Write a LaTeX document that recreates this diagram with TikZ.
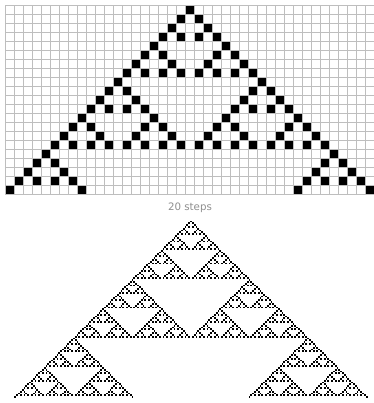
\documentclass[tikz,border=0pt]{standalone}
\usepackage{fontspec}
\newfontfamily\labelfont{DejaVu Sans}
\usetikzlibrary{positioning}
\definecolor{gridgray}{HTML}{BEBEBE}
\definecolor{labelgray}{HTML}{8E8E8E}
\newcommand{\cellx}{0}
\newcommand{\celly}{0}
\newcommand{\cellw}{1}
\newcommand{\rowsmax}{0}
\newcommand{\blackcell}[2]{\fill[black] ({\cellx+(#1)*\cellw},{\celly+(#2)*\cellw}) rectangle ++(\cellw,\cellw);}
\newcommand{\sierpinski}[3]{%
  \ifnum#3>\rowsmax\relax\else
    \ifnum#1=1\relax\blackcell{#2}{#3}\else
      \begingroup
      \edef\halfw{\the\numexpr#1/2\relax}%
      \edef\subparts{\noexpand\sierpinski{\halfw}{#2}{#3}%
        \noexpand\sierpinski{\halfw}{\the\numexpr#2-\halfw\relax}{\the\numexpr#3+\halfw\relax}%
        \noexpand\sierpinski{\halfw}{\the\numexpr#2+\halfw\relax}{\the\numexpr#3+\halfw\relax}}%
      \subparts
      \endgroup
    \fi
  \fi}

\begin{document}
\begin{tikzpicture}[x=0.75pt,y=-0.75pt,gridline/.style={draw=gridgray,line width=0.8pt},
  every node/.style={font=\labelfont\fontsize{7.7}{9}\selectfont,text=labelgray}]
\useasboundingbox (0,0) rectangle (374,403);
\clip (0,0) rectangle (374,403);
% 20 steps on the grid
\renewcommand{\cellx}{185.5}\renewcommand{\celly}{5.5}\renewcommand{\cellw}{9}\renewcommand{\rowsmax}{20}
\sierpinski{32}{0}{0}
\foreach \i in {0,...,41} \draw[gridline] ({5.5+\i*9},5.5) -- ({5.5+\i*9},{5.5+21*9});
\foreach \j in {0,...,21} \draw[gridline] (5.5,{5.5+\j*9}) -- ({5.5+41*9},{5.5+\j*9});
\node[anchor=base] (steps) at (190,210) {20 steps};
% more steps, small cells
\renewcommand{\cellx}{190.1}\renewcommand{\celly}{220.5}\renewcommand{\cellw}{1.83}\renewcommand{\rowsmax}{96}
\sierpinski{128}{0}{0}
\end{tikzpicture}
\end{document}
